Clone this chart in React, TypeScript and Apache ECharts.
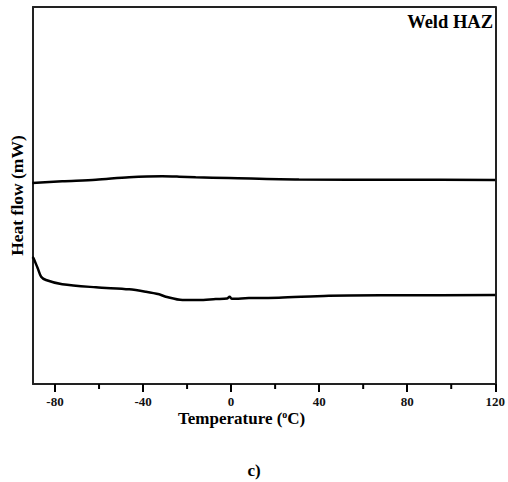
import React, { useEffect, useRef } from "react";
import * as echarts from "echarts";

// Temperature (°C) and heat flow (arbitrary mW units, no scale shown)
const upperT = [-90.3, -76.7, -61.4, -46.3, -31.3, -23.6, -16.1, -1.0, 30.8, 76.2, 120];
const upperV = [5.332, 5.377, 5.419, 5.483, 5.509, 5.499, 5.483, 5.464, 5.424, 5.419, 5.411];

const lowerT = [-90.3, -89.8, -87.9, -86.3, -84.1, -76.7, -61.4, -46.3, -38.7, -32.7, -29.7, -22.1, -14.6, -7.0, -1.9, -0.7, 0.4, 8.1, 21.7, 44.4, 76.2, 120];
const lowerV = [3.37, 3.342, 3.077, 2.846, 2.759, 2.645, 2.565, 2.512, 2.448, 2.379, 2.316, 2.228, 2.228, 2.255, 2.268, 2.316, 2.26, 2.281, 2.289, 2.342, 2.353, 2.361];

const xMajorTicks = [-80, -40, 0, 40, 80, 120];
const xMinorTicks = [-60, -20, 20, 60, 100];

const FONT = "'Liberation Serif', 'DejaVu Serif', serif";
const Y_MIN = 0;
const Y_MAX = 10;

export default function App() {
  const ref = useRef<HTMLDivElement>(null);
  useEffect(() => {
    if (!ref.current) return;
    const chart = echarts.init(ref.current, undefined, { renderer: "svg" });
    const frame = { show: true, lineStyle: { color: "#222", width: 2 } };
    const upper = upperT.map((t, i) => [t, upperV[i]]);
    const lower = lowerT.map((t, i) => [t, lowerV[i]]);
    const bold = { fontFamily: FONT, fontWeight: "bold", color: "#000" };
    chart.setOption({
      animation: false,
      title: [
        {
          text: "Weld HAZ", right: 15, top: 12, padding: 0,
          textStyle: { ...bold, fontSize: 18.5, lineHeight: 20 },
        },
        {
          text: "{n|Temperature (}{s|o}{n|C)}", left: 178, top: 409, padding: 0,
          textStyle: {
            ...bold, fontSize: 17, lineHeight: 18,
            rich: {
              n: { ...bold, fontSize: 17, lineHeight: 18 },
              s: { ...bold, fontSize: 10, lineHeight: 18, verticalAlign: "top" },
            },
          },
        },
        {
          text: "c)", left: "center", top: 461, padding: 0,
          textStyle: { ...bold, fontSize: 17, lineHeight: 18 },
        },
      ],
      grid: { left: 33, right: 11, top: 7, bottom: 98 },
      xAxis: [
        {
          type: "value", min: -90, max: 120, position: "bottom",
          axisLine: { ...frame, onZero: false },
          axisTick: { show: true, length: 8, customValues: xMajorTicks, lineStyle: { color: "#000", width: 2 } },
          axisLabel: { show: true, customValues: xMajorTicks, margin: 11, color: "#111", fontFamily: FONT, fontWeight: "bold", fontSize: 13 },
          splitLine: { show: false },
        },
        {
          type: "value", min: -90, max: 120, position: "top",
          axisLine: { ...frame, onZero: false },
          axisTick: { show: false }, axisLabel: { show: false }, splitLine: { show: false },
        },
      ],
      yAxis: [
        {
          type: "value", min: Y_MIN, max: Y_MAX, position: "left",
          name: "Heat flow (mW)", nameLocation: "middle", nameRotate: 90, nameGap: 7,
          nameTextStyle: { ...bold, fontSize: 17.5 },
          axisLine: { ...frame, onZero: false },
          axisTick: { show: false }, axisLabel: { show: false }, splitLine: { show: false },
        },
        {
          type: "value", min: Y_MIN, max: Y_MAX, position: "right",
          axisLine: { ...frame, onZero: false },
          axisTick: { show: false }, axisLabel: { show: false }, splitLine: { show: false },
        },
      ],
      series: [
        {
          type: "line", data: upper, showSymbol: false, smooth: 0.3,
          lineStyle: { color: "#000", width: 2.5 }, xAxisIndex: 0, yAxisIndex: 0,
        },
        {
          type: "line", data: lower, showSymbol: false, smooth: 0.3,
          lineStyle: { color: "#000", width: 2.5 }, xAxisIndex: 0, yAxisIndex: 0,
        },
        {
          type: "custom", xAxisIndex: 0, yAxisIndex: 0, clip: false,
          data: xMinorTicks.map((v) => [v, 1]),
          renderItem: (params: any, api: any) => {
            const p = api.coord([api.value(0), Y_MIN]);
            return {
              type: "line",
              shape: { x1: p[0], y1: p[1], x2: p[0], y2: p[1] + 5 },
              style: { stroke: "#000", lineWidth: 2 },
            };
          },
        },
      ],
    });
    return () => chart.dispose();
  }, []);
  return <div ref={ref} style={{ position: "absolute", left: 0, top: 0, width: 508, height: 482 }} />;
}
